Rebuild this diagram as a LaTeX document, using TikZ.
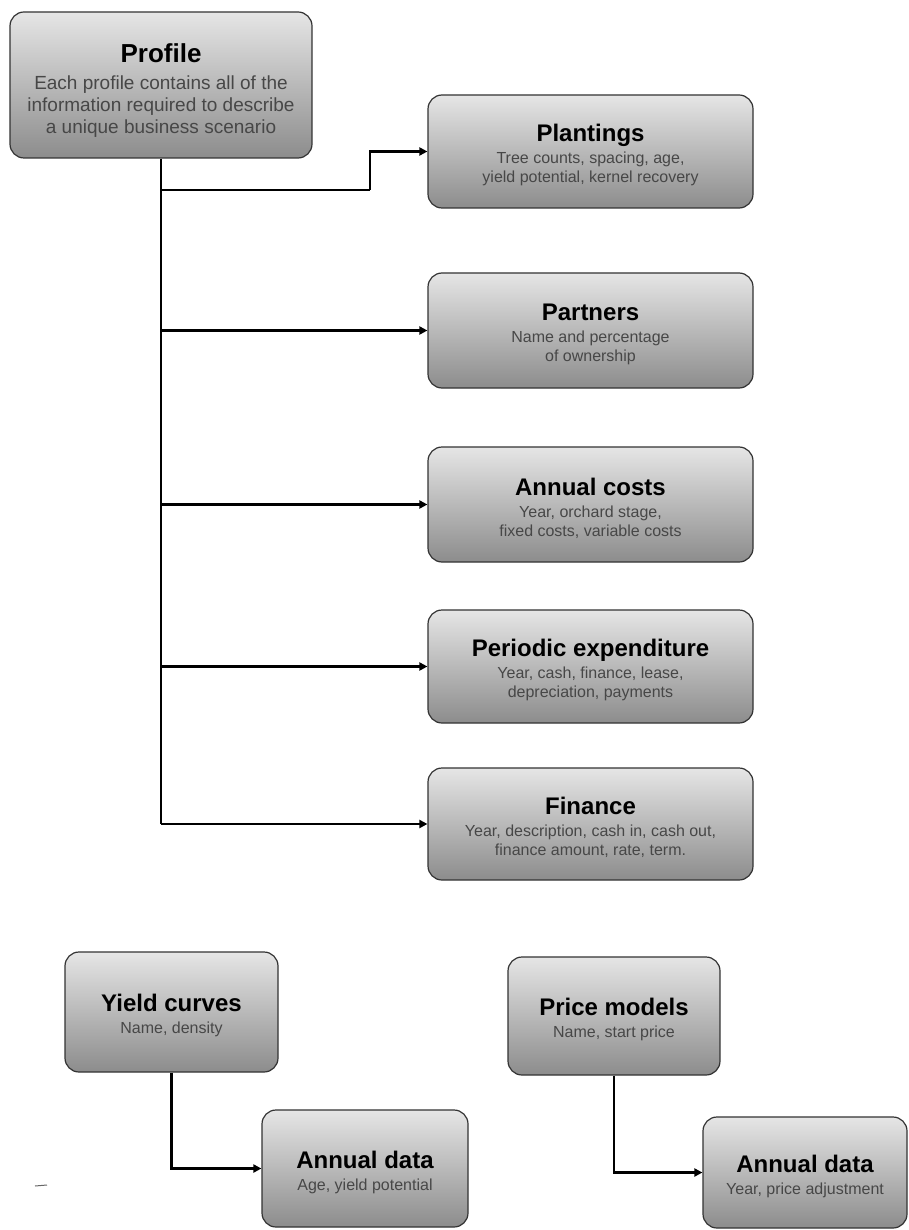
\documentclass[tikz,border=0pt]{standalone}
\usepackage{fontspec}
\setmainfont{Liberation Sans}
\usetikzlibrary{arrows.meta}
\newcommand\boxtitle[3][24]{{\fontsize{#1}{#1}\selectfont\bfseries\color{black}\rule{0pt}{#2pt}#3}}
\begin{document}
\begin{tikzpicture}[x=1pt,y=-1pt,
  box/.style={draw=black!80, line width=1.2pt, rounded corners=14pt,
    top color=black!10, bottom color=black!45, align=center, inner sep=0pt,
    text=black!72, font=\fontsize{16}{19}\selectfont},
  conn/.style={draw=black, line width=2.8pt, -{Triangle[length=8pt,width=8pt]}},
  trunk/.style={draw=black, line width=2.8pt}]
\useasboundingbox (0,0) rectangle (909,1230);

\node[box, minimum width=302, minimum height=146, font=\fontsize{19}{22}\selectfont] (profile) at (161,85)
  {\boxtitle[26]{30}{Profile}\\[5pt]Each profile contains all of the\\information required to describe\\a unique business scenario};

\node[box, minimum width=325, minimum height=113] (plantings) at (590.5,151.5)
  {\boxtitle{25}{Plantings}\\[3pt]Tree counts, spacing, age,\\yield potential, kernel recovery};
\node[box, minimum width=325, minimum height=115] (partners) at (590.5,330.5)
  {\boxtitle{25}{Partners}\\[3pt]Name and percentage\\of ownership};
\node[box, minimum width=325, minimum height=115] (annual) at (590.5,504.5)
  {\boxtitle{25}{Annual costs}\\[3pt]Year, orchard stage,\\fixed costs, variable costs};
\node[box, minimum width=325, minimum height=113] (periodic) at (590.5,666.5)
  {\boxtitle{25}{Periodic expenditure}\\[3pt]Year, cash, finance, lease,\\depreciation, payments};
\node[box, minimum width=325, minimum height=112] (finance) at (590.5,824)
  {\boxtitle{25}{Finance}\\[3pt]Year, description, cash in, cash out,\\finance amount, rate, term.};

\node[box, minimum width=213, minimum height=120] (yield) at (171.5,1012)
  {\boxtitle{25}{Yield curves}\\[3pt]Name, density};
\node[box, minimum width=206, minimum height=117] (ad1) at (365,1168.5)
  {\boxtitle{25}{Annual data}\\[3pt]Age, yield potential};
\node[box, minimum width=212, minimum height=118] (price) at (614,1016)
  {\boxtitle{25}{Price models}\\[3pt]Name, start price};
\node[box, minimum width=204, minimum height=111] (ad2) at (805,1172.5)
  {\boxtitle{25}{Annual data}\\[3pt]Year, price adjustment};

\coordinate (j1) at (161,190);
\coordinate (j2) at (370,190);
\draw[trunk] (profile.south) -- (profile.south |- finance.west);
\draw[trunk] (j1) -- (j2);
\draw[conn] (j2) |- (plantings.west);
\draw[conn] (profile.south |- partners.west) -- (partners.west);
\draw[conn] (profile.south |- annual.west) -- (annual.west);
\draw[conn] (profile.south |- periodic.west) -- (periodic.west);
\draw[conn] (profile.south |- finance.west) -- (finance.west);

\draw[conn] (yield.south) |- (ad1.west);
\draw[conn] (price.south) |- (ad2.west);

\draw[black!60, line width=1pt] (35,1186) -- (47,1185);
\end{tikzpicture}
\end{document}
